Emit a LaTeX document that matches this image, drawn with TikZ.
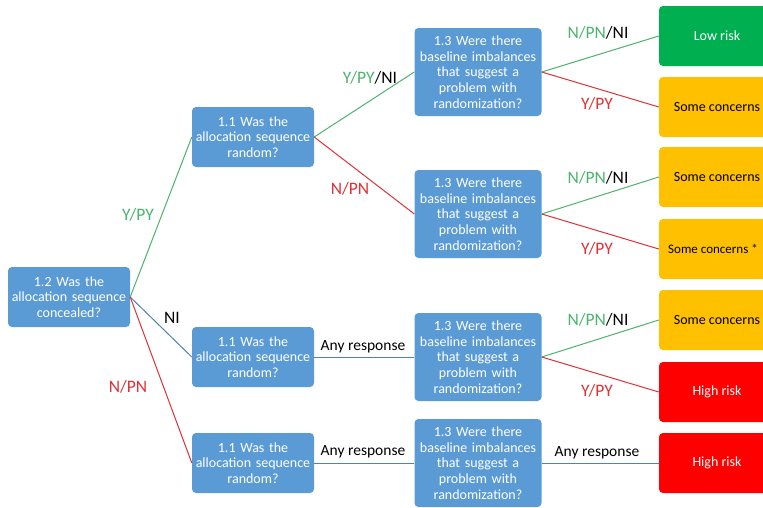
\documentclass[tikz,border=0pt]{standalone}
\usepackage{fontspec}
\setmainfont{Carlito}
\usetikzlibrary{positioning}
\definecolor{boxblue}{RGB}{91,155,213}
\definecolor{lowgreen}{RGB}{0,176,80}
\definecolor{someamber}{RGB}{255,192,0}
\definecolor{highred}{RGB}{255,0,0}
\definecolor{yesgreen}{RGB}{76,180,110}
\definecolor{nored}{RGB}{222,50,55}
\definecolor{nilblue}{RGB}{79,129,189}

\begin{document}
\begin{tikzpicture}[x=1pt, y=-1pt,
    question/.style={draw=none, rectangle, rounded corners=4pt, fill=boxblue, text=white,
        align=center, inner sep=1pt, font=\fontsize{14}{15.6}\selectfont},
    q11/.style={question, minimum width=122pt, minimum height=60pt, text width=120pt},
    q13/.style={question, minimum width=127pt, minimum height=88pt, text width=125pt},
    outcome/.style={rectangle, rounded corners=4pt, minimum width=116pt, minimum height=60pt,
        font=\fontsize{14}{16}\selectfont},
    lab/.style={font=\fontsize{17.5}{19}\selectfont},
    anylab/.style={font=\fontsize{15.5}{17}\selectfont},
    yes/.style={draw=yesgreen, line width=1pt},
    no/.style={draw=nored, line width=1pt},
    nil/.style={draw=nilblue, line width=1pt}]
    \clip (0,0) rectangle (763,507);
    \fill[white] (0,0) rectangle (763,507);
    % Question boxes
    \node[q11] (q12) at (69,297) {1.2 Was the\\allocation sequence\\concealed?};
    \node[q11] (q11a) at (253,137) {1.1 Was the\\allocation sequence\\random?};
    \node[q11] (q11b) at (253,357) {1.1 Was the\\allocation sequence\\random?};
    \node[q11] (q11c) at (253,463) {1.1 Was the\\allocation sequence\\random?};
    \node[q13] (q13a) at (478,72) {1.3 Were there\\baseline imbalances\\that suggest a\\problem with\\randomization?};
    \node[q13] (q13b) at (478,214) {1.3 Were there\\baseline imbalances\\that suggest a\\problem with\\randomization?};
    \node[q13] (q13c) at (478,357) {1.3 Were there\\baseline imbalances\\that suggest a\\problem with\\randomization?};
    \node[q13] (q13d) at (478,463) {1.3 Were there\\baseline imbalances\\that suggest a\\problem with\\randomization?};
    % Judgement boxes
    \node[outcome, fill=lowgreen, text=white] (low) at (717,36) {Low risk};
    \node[outcome, fill=someamber] (some1) at (717,107) {Some concerns};
    \node[outcome, fill=someamber] (some2) at (717,177) {Some concerns};
    \node[outcome, fill=someamber, font=\fontsize{13}{15}\selectfont] (some3) at (717,249) {Some concerns *\hspace*{8pt}};
    \node[outcome, fill=someamber] (some4) at (717,320) {Some concerns};
    \node[outcome, fill=highred, text=white] (high1) at (717,392) {High risk};
    \node[outcome, fill=highred, text=white] (high2) at (717,463) {High risk};
    % Branches
    \draw[yes] (q12.east) -- (q11a.west);
    \draw[nil] (q12.east) -- (q11b.west);
    \draw[no] (q12.east) -- (q11c.west);
    \draw[yes] (q11a.east) -- (q13a.west);
    \draw[no] (q11a.east) -- (q13b.west);
    \draw[nil] (q11b.east) -- (q13c.west);
    \draw[nil] (q11c.east) -- (q13d.west);
    \draw[yes] (q13a.east) -- (low.west);
    \draw[no] (q13a.east) -- (some1.west);
    \draw[yes] (q13b.east) -- (some2.west);
    \draw[no] (q13b.east) -- (some3.west);
    \draw[yes] (q13c.east) -- (some4.west);
    \draw[no] (q13c.east) -- (high1.west);
    \draw[nil] (q13d.east) -- (high2.west);
    % Branch labels
    \node[lab, text=yesgreen] (l1) at (138,215) {Y/PY};
    \node[lab] (l2) at (172,318) {NI};
    \node[lab, text=nored] (l3) at (128,387) {N/PN};
    \node[lab] (l4) at (370,78) {\textcolor{yesgreen}{Y/PY}/NI};
    \node[lab, text=nored] (l5) at (350,189) {N/PN};
    \node[lab] (l6) at (598,33) {\textcolor{yesgreen}{N/PN}/NI};
    \node[lab, text=nored] (l7) at (597,104) {Y/PY};
    \node[lab] (l8) at (598,178) {\textcolor{yesgreen}{N/PN}/NI};
    \node[lab, text=nored] (l9) at (597,249) {Y/PY};
    \node[lab] (l10) at (598,320) {\textcolor{yesgreen}{N/PN}/NI};
    \node[lab, text=nored] (l11) at (597,391) {Y/PY};
    \node[anylab] (l12) at (363,347) {Any response};
    \node[anylab] (l13) at (363,452) {Any response};
    \node[anylab] (l14) at (597,453) {Any response};
\end{tikzpicture}
\end{document}
